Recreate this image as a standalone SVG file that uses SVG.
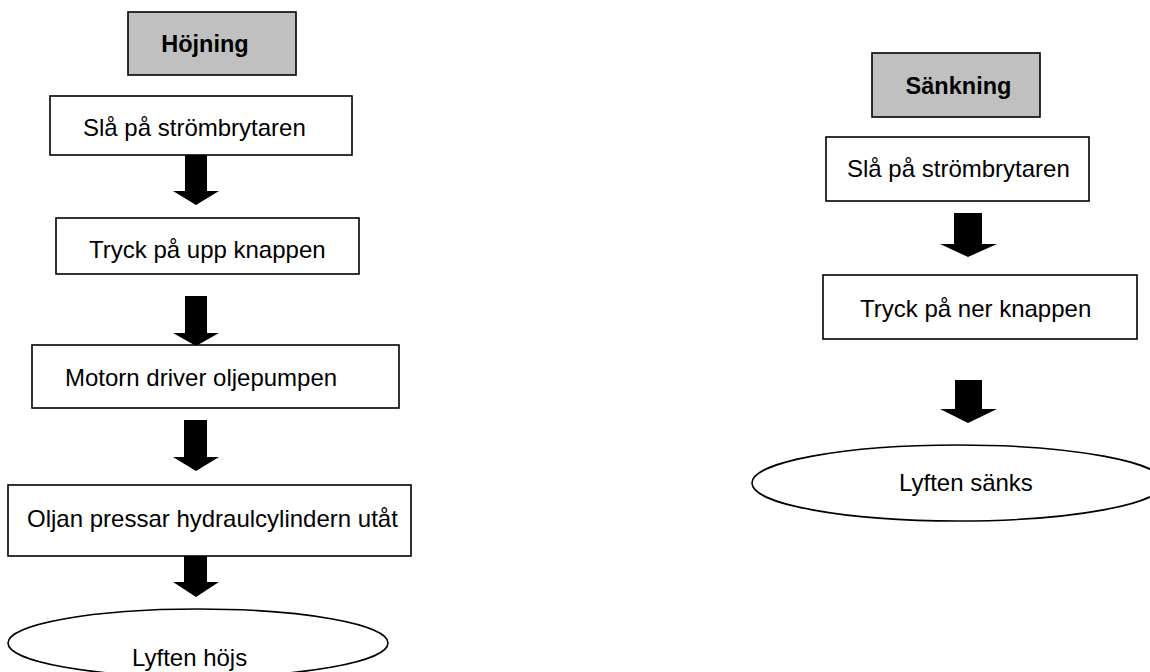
<svg xmlns="http://www.w3.org/2000/svg" width="1150" height="672" viewBox="0 0 1150 672">
<style>
  .box { fill: #ffffff; stroke: #000000; stroke-width: 1.6; }
  .head { fill: #c0c0c0; stroke: #000000; stroke-width: 1.6; }
  .ell { fill: #ffffff; stroke: #000000; stroke-width: 1.6; }
  .t { font-family: "Liberation Sans", Arial, sans-serif; font-size: 24px; fill: #000000; }
  .tb { font-family: "Liberation Sans", Arial, sans-serif; font-size: 23.5px; font-weight: bold; fill: #000000; }
  .arrow { fill: #000000; stroke: none; }
</style>
<rect width="1150" height="672" fill="#ffffff"/>

<g id="connectors">
  <path class="arrow" d="M185,155 H207 V191 H219 L196,205 L173,191 H185 Z"/>
  <path class="arrow" d="M185,296 H207 V333 H219 L196,346 L173,333 H185 Z"/>
  <path class="arrow" d="M184,420 H207 V457 H219 L196,471 L173,457 H184 Z"/>
  <path class="arrow" d="M184,555 H207 V582 H219 L196,597 L173,582 H184 Z"/>
  <path class="arrow" d="M954,213 H982 V244 H997 L968,257 L940,244 H954 Z"/>
  <path class="arrow" d="M955,380 H982 V409 H997 L968,423 L940,409 H955 Z"/>
</g>

<g id="hojning">
  <rect class="head" x="128" y="12" width="168" height="63"/>
  <text class="tb" x="205" y="52" text-anchor="middle">Höjning</text>
</g>
<g id="l-slaa">
  <rect class="box" x="50" y="96" width="302" height="59"/>
  <text class="t" x="83" y="136">Slå på strömbrytaren</text>
</g>
<g id="l-tryck">
  <rect class="box" x="56" y="218" width="303" height="56"/>
  <text class="t" x="89" y="258">Tryck på upp knappen</text>
</g>
<g id="l-motorn">
  <rect class="box" x="32" y="345" width="367" height="63"/>
  <text class="t" x="65" y="386">Motorn driver oljepumpen</text>
</g>
<g id="l-oljan">
  <rect class="box" x="8" y="485" width="403" height="71"/>
  <text class="t" x="27" y="527">Oljan pressar hydraulcylindern utåt</text>
</g>
<g id="l-lyften">
  <ellipse class="ell" cx="198" cy="643" rx="190" ry="34"/>
  <text class="t" x="132" y="666">Lyften höjs</text>
</g>

<g id="sankning">
  <rect class="head" x="872" y="53" width="168" height="64"/>
  <text class="tb" x="958.5" y="94" text-anchor="middle">Sänkning</text>
</g>
<g id="r-slaa">
  <rect class="box" x="826" y="137" width="263" height="64"/>
  <text class="t" x="847" y="177">Slå på strömbrytaren</text>
</g>
<g id="r-tryck">
  <rect class="box" x="823" y="275" width="314" height="64"/>
  <text class="t" x="860" y="317">Tryck på ner knappen</text>
</g>
<g id="r-lyften">
  <ellipse class="ell" cx="958" cy="483" rx="206" ry="38"/>
  <text class="t" x="899" y="491">Lyften sänks</text>
</g>
</svg>
